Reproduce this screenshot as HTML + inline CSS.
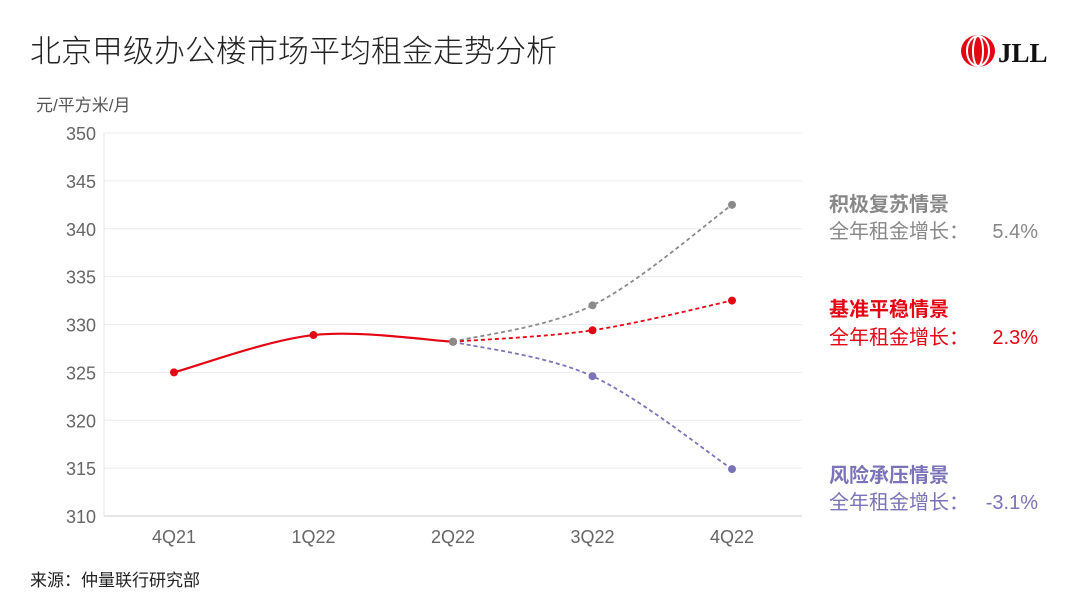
<!DOCTYPE html>
<html><head><meta charset="utf-8"><style>
body{margin:0;background:#fff;width:1080px;height:606px;overflow:hidden;font-family:"Liberation Sans","Noto Sans CJK SC",sans-serif}
</style></head><body>
<svg width="1080" height="606" style="font-family:'Liberation Sans','Noto Sans CJK SC',sans-serif">
<text x="30" y="62" font-size="31" fill="#222" font-weight="300">北京甲级办公楼市场平均租金走势分析</text>
<text x="36" y="111" font-size="17" fill="#555">元/平方米/月</text>
<g>
<ellipse cx="978" cy="51" rx="17" ry="16" fill="#e30613"/>
<g stroke="#fff" stroke-width="2" fill="none"><ellipse cx="978" cy="51" rx="11" ry="15"/><ellipse cx="978" cy="51" rx="5" ry="15"/></g>
<text x="998" y="62" font-size="27" font-weight="bold" font-family="Liberation Serif,serif" fill="#111">JLL</text>
</g>
<g id="grid"></g><g id="series"></g>
<g font-size="20">
<text x="829" y="211" font-weight="bold" fill="#888">积极复苏情景</text>
<text x="829" y="238" fill="#888">全年租金增长：</text>
<text x="1038" y="238" fill="#888" text-anchor="end">5.4%</text>
<text x="829" y="316" font-weight="bold" fill="#e30613">基准平稳情景</text>
<text x="829" y="344" fill="#e30613">全年租金增长：</text>
<text x="1038" y="344" fill="#e30613" text-anchor="end">2.3%</text>
<text x="829" y="482" font-weight="bold" fill="#7b73b8">风险承压情景</text>
<text x="829" y="509" fill="#7b73b8">全年租金增长：</text>
<text x="1038" y="509" fill="#7b73b8" text-anchor="end">-3.1%</text>
</g>
<text x="30" y="586" font-size="17" fill="#222">来源：仲量联行研究部</text>
</svg>
<script>
const categories=["4Q21","1Q22","2Q22","3Q22","4Q22"];
const yTicks=[310,315,320,325,330,335,340,345,350];
const actual=[325.0,328.9,328.2];
const optimistic=[328.2,332.0,342.5];
const base=[328.2,329.4,332.5];
const pessimistic=[328.2,324.6,314.9];
const NS="http://www.w3.org/2000/svg";
const x=i=>174+i*139.5, y=v=>516-(v-310)*9.575;
const grid=document.getElementById('grid'), ser=document.getElementById('series');
function mk(t,a,p){const e=document.createElementNS(NS,t);for(const k in a)e.setAttribute(k,a[k]);p.appendChild(e);return e;}
yTicks.forEach(v=>{
 const l=mk('line',{x1:104,x2:802,y1:y(v),y2:y(v),stroke:v==310?'#ccc':'#ececec','stroke-width':1},grid);
 
 
 const t=mk('text',{x:96,y:y(v)+7,'font-size':18,fill:'#666','text-anchor':'end'},grid);t.textContent=v;
 
 
});
const ax=mk('line',{x1:104,x2:104,y1:133,y2:516,stroke:'#e6e6e6'},grid);


categories.forEach((c,i)=>{const t=mk('text',{x:x(i),y:543,'font-size':18,fill:'#666','text-anchor':'middle'},grid);t.textContent=c;
 
 });
function path(pts){let d='M'+pts[0][0]+','+pts[0][1];
 for(let i=0;i<pts.length-1;i++){const p0=pts[i-1]||pts[i],p1=pts[i],p2=pts[i+1],p3=pts[i+2]||p2;
  d+=' C'+(p1[0]+(p2[0]-p0[0])/6)+','+(p1[1]+(p2[1]-p0[1])/6)+' '+(p2[0]-(p3[0]-p1[0])/6)+','+(p2[1]-(p3[1]-p1[1])/6)+' '+p2[0]+','+p2[1];}
 return d;}
function draw(vals,start,col,dash,name){
 const pts=vals.map((v,i)=>[x(i+start),y(v)]);
 const p=mk('path',{d:path(pts),fill:'none',stroke:col,'stroke-width':dash?1.8:2.2,'stroke-dasharray':dash?'4 3':'none'},ser);
 
 
 pts.forEach((q,i)=>{if(dash&&i==0)return;const c=mk('circle',{cx:q[0],cy:q[1],r:4,fill:col},ser);
  
  });
}
draw(optimistic,2,'#8a8a8a',true,'optimistic');
draw(base,2,'#e30613',true,'base');
draw(pessimistic,2,'#7b73b8',true,'pessimistic');
draw(actual,0,'#e30613',false,'actual');
const last=mk('circle',{cx:x(2),cy:y(actual[2]),r:4,fill:'#8a8a8a'},ser);


</script>
</body></html>
